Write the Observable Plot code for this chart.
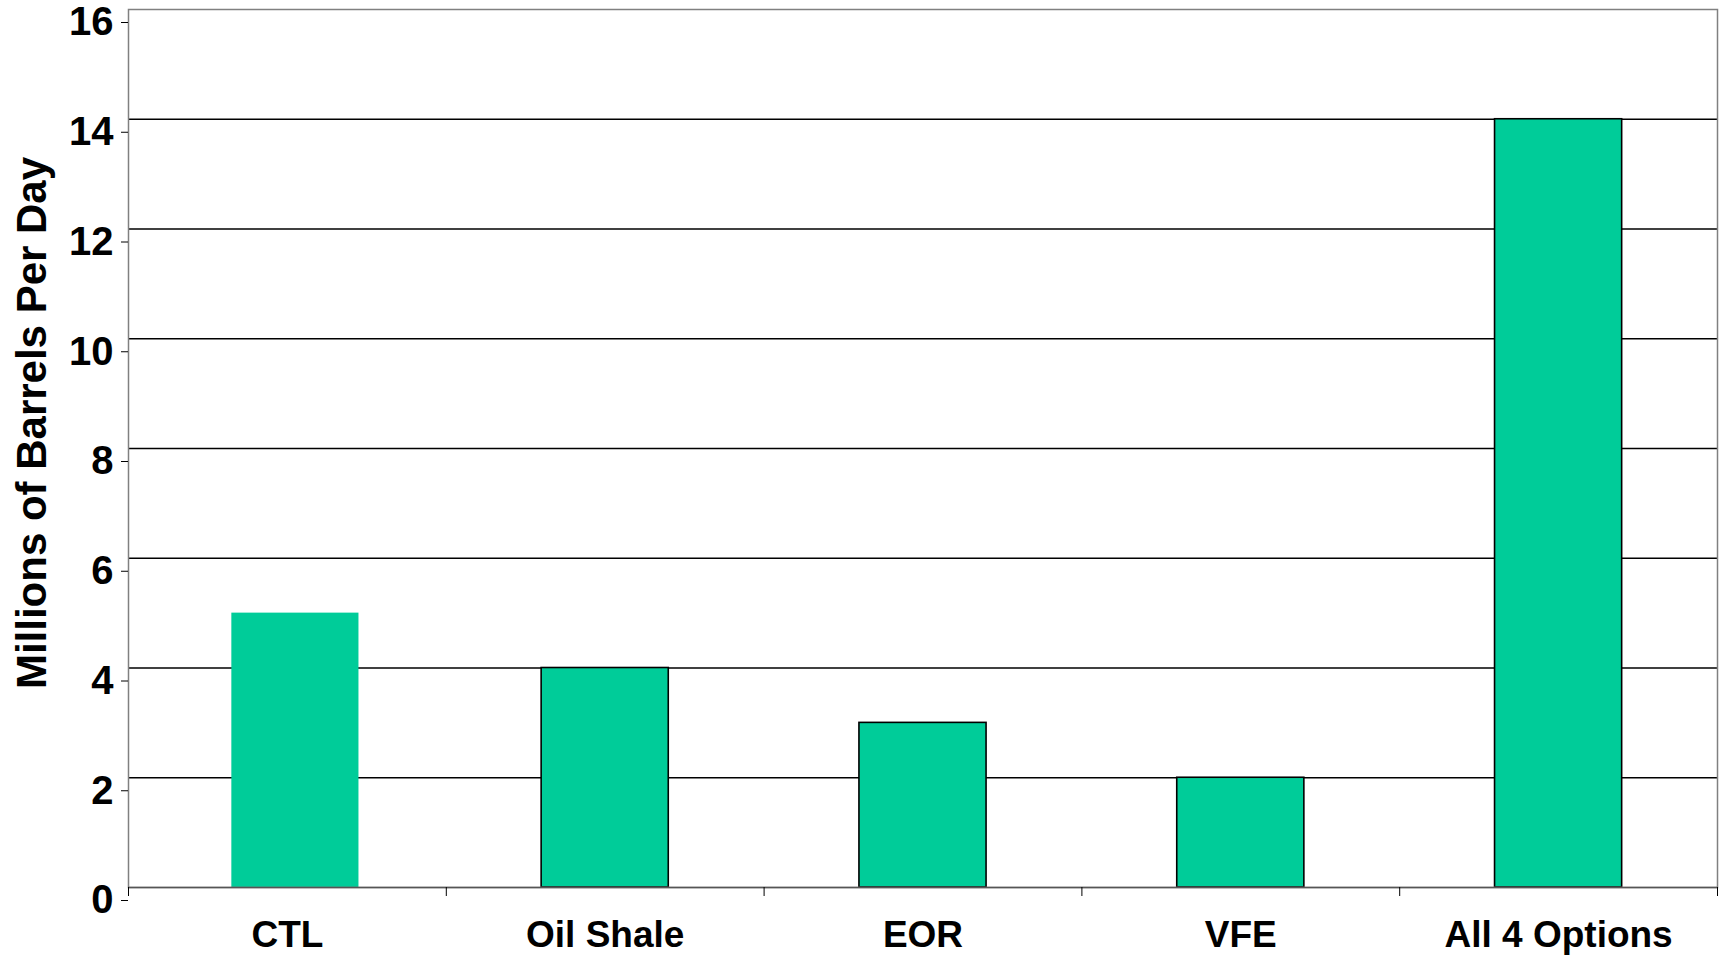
<!DOCTYPE html>
<html><head><meta charset="utf-8">
<script src="https://cdn.jsdelivr.net/npm/d3@7"></script>
<script src="https://cdn.jsdelivr.net/npm/@observablehq/plot@0.6"></script>
<style>body{margin:0;background:#fff} svg{display:block}</style>
</head><body><div id="chart"></div>
<script>
const categories = ["CTL", "Oil Shale", "EOR", "VFE", "All 4 Options"];
const values = [5, 4, 3, 2, 14];
const yTicks = [0, 2, 4, 6, 8, 10, 12, 14, 16];
const yLabel = "Millions of Barrels Per Day";

const data = categories.map((c, i) => ({category: c, value: values[i], i}));
const boundaries = d3.range(categories.length + 1);
const centers = categories.map((c, i) => i + 0.5);

const font = "'Liberation Sans', Arial, Helvetica, sans-serif";
const barColor = "#00CC99";

const chart = Plot.plot({
  width: 1721, height: 955,
  marginLeft: 128, marginRight: 4, marginTop: 9, marginBottom: 68,
  style: {fontFamily: font, fontWeight: "bold", background: "white", color: "black"},
  x: {domain: [0, categories.length], label: null},
  y: {domain: [0, 16], label: null},
  marks: [
    Plot.gridY(yTicks.slice(1, -1), {stroke: "black", strokeOpacity: 1, strokeWidth: 1.3}),
    Plot.rectY(data.filter(d => d.i > 0), {
      x1: d => d.i + 0.3, x2: d => d.i + 0.7, y: "value",
      fill: barColor, stroke: "black", strokeWidth: 1.6
    }),
    Plot.rectY(data.filter(d => d.i === 0), {
      x1: d => d.i + 0.3, x2: d => d.i + 0.7, y: "value",
      fill: barColor, dx: 8
    }),
    Plot.frame({stroke: "#808080", strokeWidth: 1.5}),
    Plot.ruleY([0], {stroke: "#555", strokeWidth: 1.3}),
    Plot.axisY(yTicks, {tickSize: 7, tickPadding: 8, fontSize: 40, dy: 13, stroke: "black", strokeWidth: 1, fill: "black",
      tickFormat: d3.format("d")}),
    Plot.axisX(boundaries, {tickSize: 9, tickFormat: () => "", stroke: "black", strokeWidth: 1}),
    Plot.axisX(centers, {tickSize: 0, tickPadding: 33, fontSize: 37, fill: "black",
      tickFormat: v => categories[Math.floor(v)]}),
    Plot.text([yLabel], {frameAnchor: "left", rotate: -90, dx: -83, dy: -25.5,
      lineAnchor: "bottom", textAnchor: "middle", fontSize: 42, fontWeight: "bold", fill: "black"})
  ]
});
document.getElementById("chart").append(chart);
</script>
</body></html>
